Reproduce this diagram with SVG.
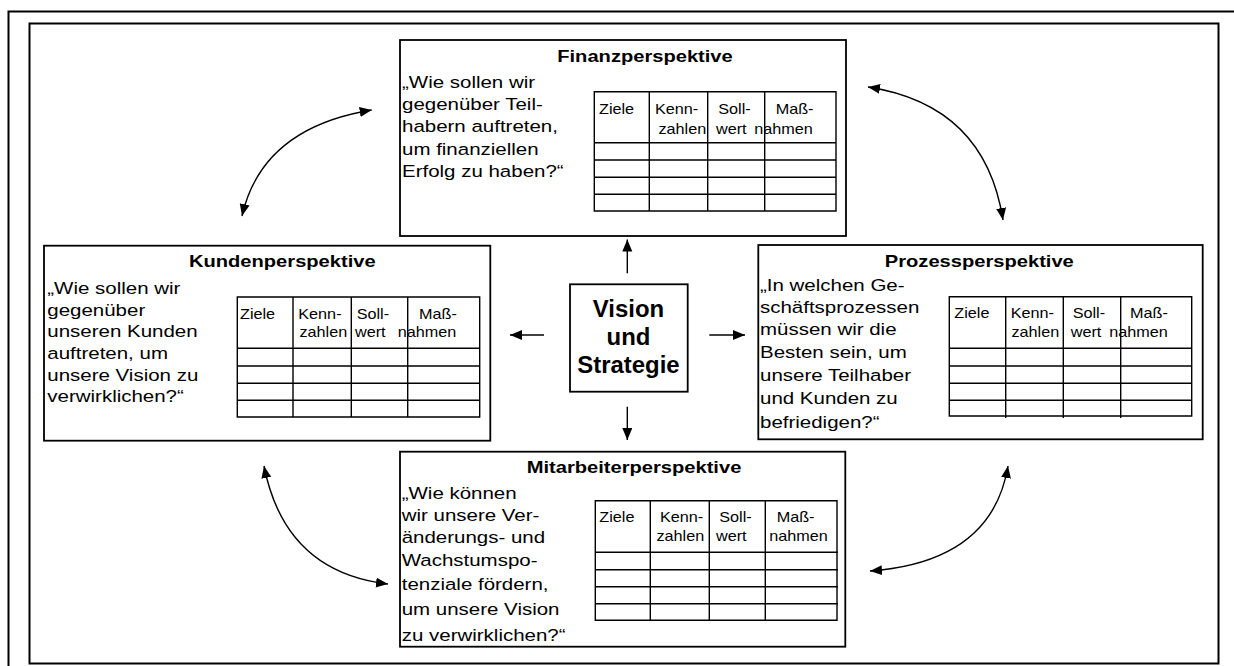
<svg xmlns="http://www.w3.org/2000/svg" width="1234" height="666" viewBox="0 0 1234 666">
<defs>
<style>
.frame{fill:none;stroke:#000;stroke-width:2}
.box{fill:#fff;stroke:#000;stroke-width:1.8}
.tl{fill:none;stroke:#000;stroke-width:1.4}
.ttl{font-family:"Liberation Sans",Arial,sans-serif;font-weight:bold;font-size:16.5px;fill:#000;text-anchor:middle}
.body{font-family:"Liberation Sans",Arial,sans-serif;font-size:16.8px;fill:#000}
.th{font-family:"Liberation Sans",Arial,sans-serif;font-size:15px;fill:#000}
.ctr{font-family:"Liberation Sans",Arial,sans-serif;font-weight:bold;font-size:23px;fill:#000;text-anchor:middle}
.con{fill:none;stroke:#000;stroke-width:1.4}
</style>
<marker id="ah" markerUnits="userSpaceOnUse" markerWidth="14" markerHeight="12" refX="12" refY="5" orient="auto-start-reverse" viewBox="0 0 14 12">
<path d="M0,0 L12,5 L0,10 z" fill="#000"/>
</marker>
</defs>
<rect x="0" y="0" width="1234" height="666" fill="#fff"/>
<rect class="frame" x="8.5" y="11.5" width="1300" height="700"/>
<rect class="frame" x="29.5" y="23.5" width="1189" height="640"/>

<g id="finanz">
<rect class="box" x="400" y="40" width="446" height="196"/>
<text class="ttl" transform="translate(645,62.3) scale(1.22,1)">Finanzperspektive</text>
<text class="body" transform="translate(402,88) scale(1.22,1)"><tspan x="0" y="0">„Wie sollen wir</tspan><tspan x="0" dy="22.2">gegenüber Teil-</tspan><tspan x="0" dy="22.2">habern auftreten,</tspan><tspan x="0" dy="22.2">um finanziellen</tspan><tspan x="0" dy="22.2">Erfolg zu haben?“</tspan></text>
<path class="tl" d="M594.3,91.7H836V211H594.3Z M594.3,142.7H836 M594.3,160H836 M594.3,177.3H836 M594.3,194.3H836 M649.3,91.7V211 M707.7,91.7V211 M764.7,91.7V211"/>
<text class="th" transform="translate(599,114) scale(1.08,1)">Ziele</text>
<text class="th" transform="translate(655,114) scale(1.08,1)">Kenn-</text>
<text class="th" transform="translate(658.5,134) scale(1.08,1)">zahlen</text>
<text class="th" transform="translate(718.3,114) scale(1.08,1)">Soll-</text>
<text class="th" transform="translate(716,134) scale(1.08,1)">wert</text>
<text class="th" transform="translate(775.7,114) scale(1.08,1)">Maß-</text>
<text class="th" transform="translate(754.3,134) scale(1.08,1)">nahmen</text>
</g>

<g id="kunden">
<rect class="box" x="44" y="245.7" width="446.3" height="195"/>
<text class="ttl" transform="translate(282.3,267.3) scale(1.22,1)">Kundenperspektive</text>
<text class="body" transform="translate(47.3,294) scale(1.22,1)"><tspan x="0" y="0">„Wie sollen wir</tspan><tspan x="0" dy="21.7">gegenüber</tspan><tspan x="0" dy="21.7">unseren Kunden</tspan><tspan x="0" dy="21.7">auftreten, um</tspan><tspan x="0" dy="21.7">unsere Vision zu</tspan><tspan x="0" dy="21.7">verwirklichen?“</tspan></text>
<path class="tl" d="M237.3,297H479.7V417H237.3Z M237.3,348.3H479.7 M237.3,366H479.7 M237.3,383.3H479.7 M237.3,400.3H479.7 M293,297V417 M351.3,297V417 M407.7,297V417"/>
<text class="th" transform="translate(240,319) scale(1.08,1)">Ziele</text>
<text class="th" transform="translate(298.3,319) scale(1.08,1)">Kenn-</text>
<text class="th" transform="translate(299.5,337.3) scale(1.08,1)">zahlen</text>
<text class="th" transform="translate(356.7,319) scale(1.08,1)">Soll-</text>
<text class="th" transform="translate(355,337.3) scale(1.08,1)">wert</text>
<text class="th" transform="translate(419,319) scale(1.08,1)">Maß-</text>
<text class="th" transform="translate(397.7,337.3) scale(1.08,1)">nahmen</text>
</g>

<g id="prozess">
<rect class="box" x="758.3" y="245" width="444.4" height="194.3"/>
<text class="ttl" transform="translate(979.3,266.7) scale(1.22,1)">Prozessperspektive</text>
<text class="body" transform="translate(760,0) scale(1.22,1)"><tspan x="0" y="291.5">„In welchen Ge-</tspan><tspan x="0" y="313.5">schäftsprozessen</tspan><tspan x="0" y="335.5">müssen wir die</tspan><tspan x="0" y="358">Besten sein, um</tspan><tspan x="0" y="381">unsere Teilhaber</tspan><tspan x="0" y="404">und Kunden zu</tspan><tspan x="0" y="428">befriedigen?“</tspan></text>
<path class="tl" d="M949.3,296.7H1191.7V416H949.3Z M949.3,348.3H1191.7 M949.3,366H1191.7 M949.3,383.3H1191.7 M949.3,400.3H1191.7 M1005.7,296.7V418 M1063.3,296.7V418 M1120.7,296.7V418"/>
<text class="th" transform="translate(954.3,318.3) scale(1.08,1)">Ziele</text>
<text class="th" transform="translate(1010.7,318.3) scale(1.08,1)">Kenn-</text>
<text class="th" transform="translate(1011.5,336.7) scale(1.08,1)">zahlen</text>
<text class="th" transform="translate(1072.7,318.3) scale(1.08,1)">Soll-</text>
<text class="th" transform="translate(1070.7,336.7) scale(1.08,1)">wert</text>
<text class="th" transform="translate(1130,318.3) scale(1.08,1)">Maß-</text>
<text class="th" transform="translate(1109.3,336.7) scale(1.08,1)">nahmen</text>
</g>

<g id="mitarbeiter">
<rect class="box" x="400" y="451.7" width="445.3" height="195"/>
<text class="ttl" transform="translate(634,473.3) scale(1.22,1)">Mitarbeiterperspektive</text>
<text class="body" transform="translate(401.7,0) scale(1.22,1)"><tspan x="0" y="499.5">„Wie können</tspan><tspan x="0" y="521.5">wir unsere Ver-</tspan><tspan x="0" y="543.5">änderungs- und</tspan><tspan x="0" y="566">Wachstumspo-</tspan><tspan x="0" y="590">tenziale fördern,</tspan><tspan x="0" y="615">um unsere Vision</tspan><tspan x="0" y="641">zu verwirklichen?“</tspan></text>
<path class="tl" d="M595.3,500.7H837V620.3H595.3Z M595.3,552.3H838 M595.3,569.7H838 M595.3,586.7H838 M595.3,603.7H838 M650.3,500.7V620.3 M709.3,500.7V620.3 M765.3,500.7V620.3"/>
<text class="th" transform="translate(599.3,522.3) scale(1.08,1)">Ziele</text>
<text class="th" transform="translate(660,522.3) scale(1.08,1)">Kenn-</text>
<text class="th" transform="translate(656.5,540.7) scale(1.08,1)">zahlen</text>
<text class="th" transform="translate(719.3,522.3) scale(1.08,1)">Soll-</text>
<text class="th" transform="translate(716,540.7) scale(1.08,1)">wert</text>
<text class="th" transform="translate(776.7,522.3) scale(1.08,1)">Maß-</text>
<text class="th" transform="translate(769.3,540.7) scale(1.08,1)">nahmen</text>
</g>

<g id="vision">
<rect class="box" x="570" y="284.3" width="117.7" height="107.4"/>
<text class="ctr" transform="translate(628.5,317.3) scale(1.04,1)"><tspan x="0" y="0">Vision</tspan><tspan x="0" dy="28">und</tspan><tspan x="0" dy="28">Strategie</tspan></text>
</g>

<g id="connectors">
<path class="con" d="M627.3,273.3V239.5" marker-end="url(#ah)"/>
<path class="con" d="M627.3,406.7V440" marker-end="url(#ah)"/>
<path class="con" d="M544,335H510" marker-end="url(#ah)"/>
<path class="con" d="M709.3,335H745" marker-end="url(#ah)"/>
<path class="con" d="M371.7,110 Q262,128 242,216" marker-start="url(#ah)" marker-end="url(#ah)"/>
<path class="con" d="M868,87 Q985,105 1003,220" marker-start="url(#ah)" marker-end="url(#ah)"/>
<path class="con" d="M264,466 Q285,572 388,584" marker-start="url(#ah)" marker-end="url(#ah)"/>
<path class="con" d="M870,571 Q992,562 1008,466" marker-start="url(#ah)" marker-end="url(#ah)"/>
</g>
</svg>
